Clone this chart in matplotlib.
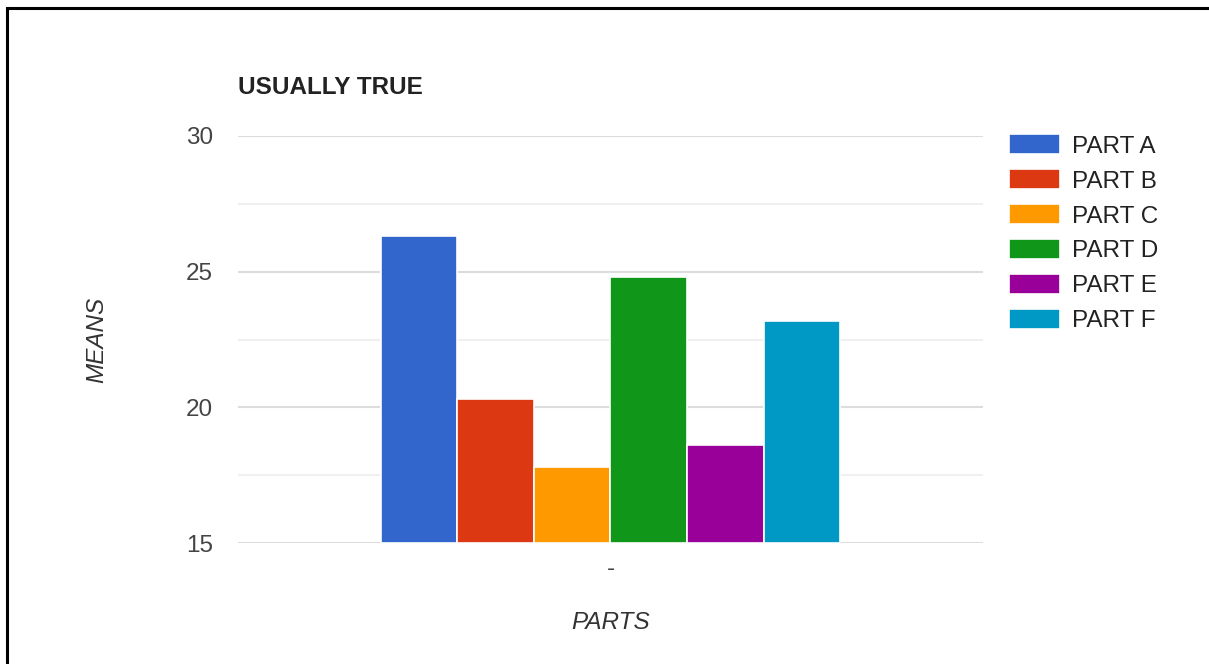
import matplotlib.pyplot as plt
import matplotlib.patches as mpatches
import numpy as np
from matplotlib.ticker import MultipleLocator

plt.rcParams['font.family'] = ['Liberation Sans', 'DejaVu Sans']

# data
parts = ['PART A', 'PART B', 'PART C', 'PART D', 'PART E', 'PART F']
means = [26.3, 20.3, 17.8, 24.8, 18.6, 23.2]
colors = ['#3366cc', '#dc3912', '#ff9900', '#109618', '#990099', '#0099c6']
category = ['-']

fs = 17.5

fig = plt.figure(figsize=(12.09, 6.64), dpi=100)
ax = fig.add_axes([0.1969, 0.1822, 0.6161, 0.613])

n = len(parts)
offsets = np.arange(n) - (n - 1) / 2
for off, m, c, lab in zip(offsets, means, colors, parts):
    ax.bar(0 + off, m - 15, bottom=15, width=1.0, color=c,
           edgecolor='white', linewidth=1.2, label=lab, zorder=3)

ax.set_ylim(15, 30)
ax.set_xlim(-4.86, 4.86)
ax.yaxis.set_major_locator(MultipleLocator(5))
ax.yaxis.set_minor_locator(MultipleLocator(2.5))
ax.grid(axis='y', which='major', color='#dddddd', linewidth=1.5, zorder=0)
ax.grid(axis='y', which='minor', color='#f0f0f0', linewidth=1.5, zorder=0)
ax.set_xticks([0])
ax.set_xticklabels(category)
for s in ax.spines.values():
    s.set_visible(False)
ax.tick_params(axis='both', which='both', length=0, labelsize=fs,
               labelcolor='#444444')
ax.tick_params(axis='y', pad=18)
ax.tick_params(axis='x', pad=10.5)

ax.set_xlabel('PARTS', fontsize=fs, style='italic', color='#333333',
              labelpad=22.5)
ax.set_ylabel('MEANS', fontsize=fs, style='italic', color='#333333',
              labelpad=56)
ax.set_title('USUALLY TRUE', loc='left', fontsize=fs, fontweight='bold',
             color='#222222', pad=30)

ax.legend(loc='upper left', bbox_to_anchor=(1.022, 1.028), frameon=False,
          fontsize=fs, handlelength=2.1, handleheight=0.9,
          labelspacing=0.47, handletextpad=0.5, labelcolor='#222222',
          borderaxespad=0)

# outer frame
fig.patches.append(mpatches.Rectangle((6.5 / 1209, -0.01), 1.02, 1 - 7.5 / 664 + 0.01,
                                      transform=fig.transFigure, fill=False,
                                      edgecolor='black', linewidth=2.2))

fig.savefig('out.png', dpi=100)
